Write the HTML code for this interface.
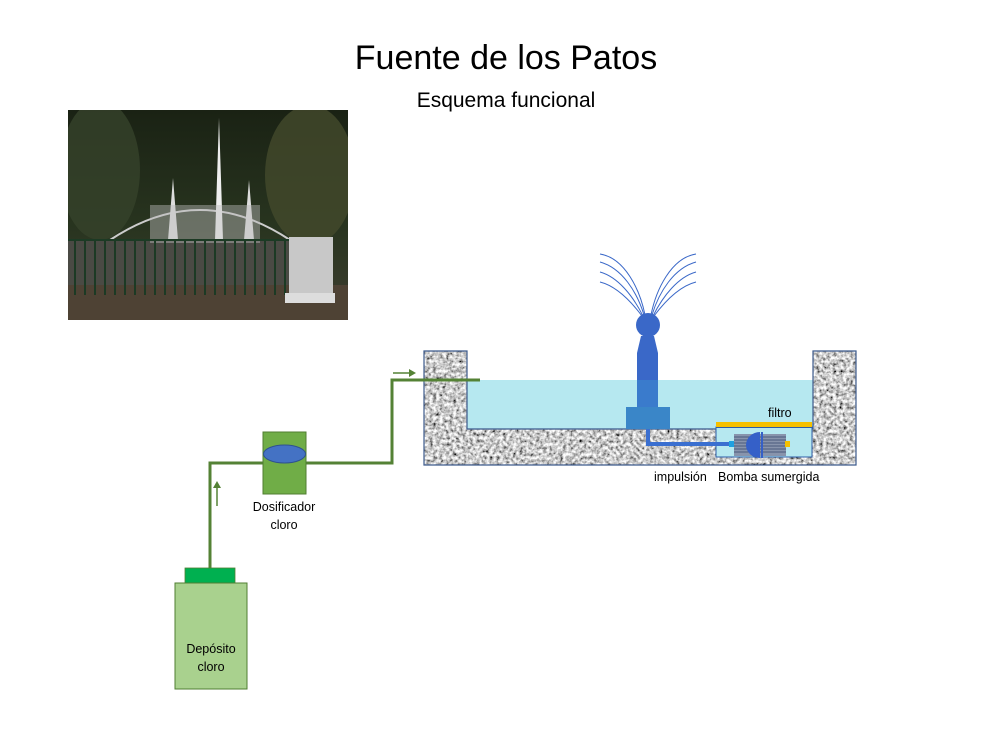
<!DOCTYPE html>
<html><head><meta charset="utf-8"><style>
body{margin:0;width:1006px;height:756px;background:#fff;overflow:hidden;font-family:"Liberation Sans",sans-serif}
</style></head><body>
<svg width="1006" height="756" xmlns="http://www.w3.org/2000/svg" style="position:absolute;left:0;top:0">
<defs>
<filter id="grav" x="424" y="351" width="432" height="114" filterUnits="userSpaceOnUse">
<feTurbulence type="fractalNoise" baseFrequency="0.3" numOctaves="3" seed="5"/>
<feColorMatrix type="matrix" values="1.8 0 0 0 -0.3  1.8 0 0 0 -0.3  1.8 0 0 0 -0.3  0 0 0 0 1"/>
</filter>
<clipPath id="basin"><path d="M424,351H467V429H813V351H856V465H424Z"/></clipPath>
<clipPath id="photo"><rect x="68" y="110" width="280" height="210"/></clipPath>
<linearGradient id="sky" x1="0" y1="0" x2="0" y2="1"><stop offset="0" stop-color="#1a2214"/><stop offset="0.55" stop-color="#28341f"/><stop offset="1" stop-color="#3e3e30"/></linearGradient>
</defs>
<text x="506" y="69" font-size="34" text-anchor="middle" fill="#000">Fuente de los Patos</text>
<text x="506" y="107" font-size="21" text-anchor="middle" fill="#000">Esquema funcional</text>
<!-- photo -->
<g clip-path="url(#photo)">
<rect x="68" y="110" width="280" height="210" fill="url(#sky)"/>
<ellipse cx="100" cy="170" rx="40" ry="70" fill="#36422a" opacity=".8"/>
<ellipse cx="310" cy="175" rx="45" ry="70" fill="#434a2c" opacity=".8"/>
<rect x="68" y="285" width="280" height="35" fill="#4e4234"/>
<rect x="68" y="240" width="230" height="45" fill="#4a4a44"/>
<path d="M110,240 Q200,180 290,240" stroke="#ccc" stroke-width="2" fill="none"/>
<path d="M215,240 L219,118 L223,240Z" fill="#eee"/>
<path d="M168,240 L173,178 L178,240 M244,240 L249,180 L254,240" fill="#ddd"/>
<rect x="150" y="205" width="110" height="38" fill="#bbb" opacity=".45"/>
<g stroke="#1c3a24" stroke-width="2">
<line x1="68" y1="240" x2="295" y2="240"/>
<path d="M75,240V295M85,240V295M95,240V295M105,240V295M115,240V295M125,240V295M135,240V295M145,240V295M155,240V295M165,240V295M175,240V295M185,240V295M195,240V295M205,240V295M215,240V295M225,240V295M235,240V295M245,240V295M255,240V295M265,240V295M275,240V295M285,240V295"/>
</g>
<rect x="289" y="237" width="44" height="58" fill="#c8c8c8"/>
<rect x="285" y="293" width="50" height="10" fill="#ddd"/>
</g>
<!-- basin -->
<rect x="467" y="380" width="346" height="49" fill="#b6e8f0"/>
<g clip-path="url(#basin)">
<rect x="424" y="351" width="432" height="114" fill="#b0b0b0"/>
<rect x="424" y="351" width="432" height="114" filter="url(#grav)"/>
</g>
<path d="M424,351H467V429H813V351H856V465H424Z" fill="none" stroke="#3c5a8c" stroke-width="1.2"/>
<!-- pump box -->
<rect x="716" y="427" width="96" height="30" fill="#b6e8f0" stroke="#2e5ea8" stroke-width="1"/>
<rect x="716" y="422" width="96" height="5" fill="#f5c000"/>
<line x1="716" y1="427.5" x2="812" y2="427.5" stroke="#2e5ea8"/>
<text x="768" y="417" font-size="12.5" fill="#000">filtro</text>
<!-- pipe -->
<path d="M648,429V444H733" stroke="#3a6fd0" stroke-width="4" fill="none"/>
<rect x="729" y="441" width="5" height="6" fill="#20a0e0"/>
<rect x="734" y="434" width="52" height="22" fill="#8894ac"/>
<g stroke="#4a5a7c" stroke-width="1"><path d="M734,437H786M734,440H786M734,443H786M734,446H786M734,449H786M734,452H786"/></g>
<path d="M760,432 A14,13 0 0,0 760,458Z" fill="#3560c8"/>
<rect x="761" y="432" width="2" height="26" fill="#3560c8"/>
<rect x="785" y="441" width="5" height="6" fill="#f5c000"/>
<text x="654" y="481" font-size="12.5" fill="#000">impulsión</text>
<text x="718" y="481" font-size="12.5" fill="#000">Bomba sumergida</text>
<!-- nozzle -->
<rect x="626" y="407" width="44" height="22" fill="#3a86c8"/>
<rect x="637" y="380" width="21" height="27" fill="#3a7bcc"/>
<rect x="637" y="353" width="21" height="27" fill="#3a68c8"/>
<path d="M641,336H654L658,353H637Z" fill="#3a68c8"/>
<circle cx="648" cy="325" r="12" fill="#3a68c8"/>
<g stroke="#3a68c8" stroke-width="1" fill="none">
<path d="M645,315 C640,290 625,258 600,254"/>
<path d="M644,315 C637,292 622,268 600,262"/>
<path d="M643,316 C633,296 618,277 600,272"/>
<path d="M642,316 C630,300 616,286 600,282"/>
<path d="M651,315 C656,290 671,258 696,254"/>
<path d="M652,315 C659,292 674,268 696,262"/>
<path d="M653,316 C663,296 678,277 696,272"/>
<path d="M654,316 C666,300 680,286 696,282"/>
</g>
<!-- green line -->
<path d="M210,568V463H263M306,463H392V380H480" stroke="#548235" stroke-width="3" fill="none"/>
<path d="M217,506V486" stroke="#548235" stroke-width="1.5"/>
<path d="M213,488L217,481L221,488Z" fill="#548235"/>
<path d="M393,373H411" stroke="#548235" stroke-width="1.5"/>
<path d="M409,369L416,373L409,377Z" fill="#548235"/>
<!-- dosificador -->
<rect x="263" y="432" width="43" height="62" fill="#70ad47" stroke="#507e32" stroke-width="1"/>
<ellipse cx="284.5" cy="454" rx="21" ry="9" fill="#4472c4" stroke="#2f528f"/>
<text x="284" y="511" font-size="12.5" text-anchor="middle" fill="#000">Dosificador</text>
<text x="284" y="529" font-size="12.5" text-anchor="middle" fill="#000">cloro</text>
<!-- deposito -->
<rect x="185" y="568" width="50" height="15" fill="#00b050" stroke="#507e32" stroke-width="0.8"/>
<rect x="175" y="583" width="72" height="106" fill="#a9d18e" stroke="#507e32" stroke-width="1"/>
<text x="211" y="653" font-size="12.5" text-anchor="middle" fill="#000">Depósito</text>
<text x="211" y="671" font-size="12.5" text-anchor="middle" fill="#000">cloro</text>
</svg>
</body></html>
